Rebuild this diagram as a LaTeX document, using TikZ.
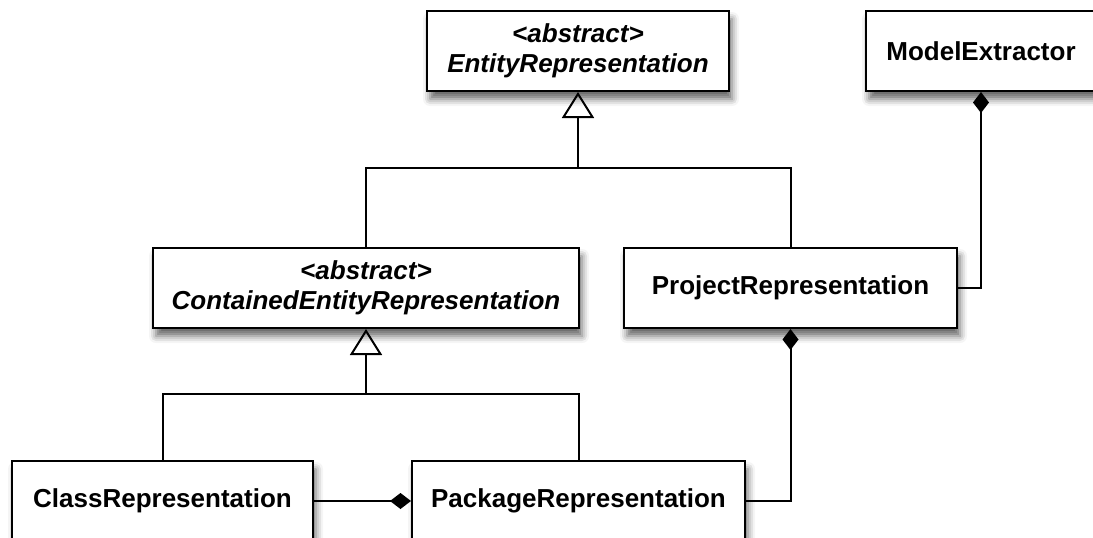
\documentclass[tikz,border=0pt]{standalone}
\usepackage{fontspec}
\setmainfont{Liberation Sans}
\usetikzlibrary{arrows.meta,shadows.blur}

\tikzset{
  umlbox/.style={draw, line width=2pt, fill=white, align=center,
    font=\bfseries\fontsize{26}{30}\selectfont,
    minimum height=80pt, inner sep=0pt,
    blur shadow={shadow xshift=3pt, shadow yshift=-8pt, shadow blur radius=7pt, shadow opacity=60}},
  absbox/.style={umlbox, font=\bfseries\itshape\fontsize{26}{30}\selectfont},
  link/.style={line width=2pt},
  isa/.style={link, -{Triangle[open, length=26pt, width=32pt, line width=2pt]}},
  has/.style={link, {Diamond[length=21pt, width=16pt]}-},
}

\begin{document}
\begin{tikzpicture}[x=1pt, y=-1pt]
\useasboundingbox (0,0) rectangle (1093,538);

% classes
\node [absbox, minimum width=302pt] (ent) at (578,51) {<abstract>\\EntityRepresentation};
\node [umlbox, minimum width=230pt] (model) at (981,51) {ModelExtractor};
\node [absbox, minimum width=426pt] (cont) at (366,288) {<abstract>\\ContainedEntityRepresentation};
\node [umlbox, minimum width=333pt] (proj) at (790.5,288) {ProjectRepresentation};
\node [umlbox, minimum width=301pt] (cls) at (162.5,501) {ClassRepresentation};
\node [umlbox, minimum width=333pt] (pkg) at (578.5,501) {PackageRepresentation};

% inheritance
\coordinate (j1) at (578,168);
\draw [link] (cont.north) |- (j1) -| (proj.north);
\draw [isa] (j1) -- (ent.south);
\coordinate (j2) at (366,394);
\draw [link] (cls.north) |- (j2) -| (pkg.north);
\draw [isa] (j2) -- (cont.south);

% composition
\draw [has] (pkg.west) -- (cls.east);
\draw [has] (proj.south) |- (pkg.east);
\draw [has] (model.south) |- (proj.east);
\end{tikzpicture}
\end{document}
